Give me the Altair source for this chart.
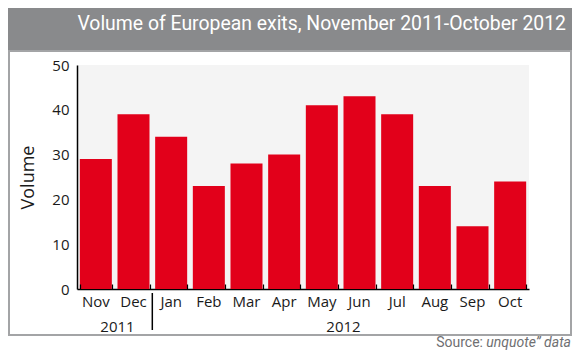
import altair as alt
import pandas as pd

months = ["Nov", "Dec", "Jan", "Feb", "Mar", "Apr", "May", "Jun", "Jul", "Aug", "Sep", "Oct"]
volumes = [29, 39, 34, 23, 28, 30, 41, 43, 39, 23, 14, 24]
years = ["2011", "2012"]
year_anchor = ["Dec", "Jun"]
y_ticks = [0, 10, 20, 30, 40, 50]
title_text = "Volume of European exits, November 2011-October 2012"
source_plain = "Source:"
source_italic = "unquote\u201d data"

RED = "#e2001a"
HEADER = "#898a8c"
BORDER = "#a3a4a6"
COND = "Roboto"
LAB = "Open Sans"

W, H = 452, 224

df = pd.DataFrame({"month": months, "volume": volumes})
ydf = pd.DataFrame({"month": year_anchor, "year": years})
sep = pd.DataFrame({"month": ["Dec"]})
one = pd.DataFrame({"t": [title_text], "s": [source_plain], "i": [source_italic]})

xscale = alt.Scale(domain=months, paddingInner=0.15, paddingOuter=0.075)
yscale = alt.Scale(domain=[0, 50], nice=False)

header = alt.Chart(one).mark_rect(color=HEADER).encode(
    x=alt.value(-77), x2=alt.value(503), y=alt.value(-65), y2=alt.value(-14)
)
frame = alt.Chart(one).mark_rect(fillOpacity=0, stroke=BORDER, strokeWidth=2).encode(
    x=alt.value(-68), x2=alt.value(494), y=alt.value(-14), y2=alt.value(270)
)

bars = alt.Chart(df).mark_bar(color=RED).encode(
    x=alt.X("month:N", sort=months, scale=xscale,
            axis=alt.Axis(orient="bottom", title=None, ticks=False, labelAngle=0,
                          labelFont=LAB, labelFontSize=15, labelColor="#1a1a1a",
                          labelPadding=5, domainColor="black", domainWidth=1.5)),
    y=alt.Y("volume:Q", scale=yscale,
            axis=alt.Axis(values=y_ticks, title="Volume", grid=False, ticks=False,
                          labelFont=LAB, labelFontSize=15, labelColor="#1a1a1a",
                          labelPadding=8, domainColor="black", domainWidth=1.5,
                          titleFont=LAB, titleFontSize=18, titleFontWeight="normal",
                          titleColor="#1a1a1a", titlePadding=14)),
)

tick_layer = alt.Chart(df).mark_bar(opacity=0).encode(
    x=alt.X("month:N", sort=months, scale=xscale,
            axis=alt.Axis(orient="top", offset=-H, labels=False, domain=False, title=None,
                          ticks=True, tickBand="extent", tickSize=5, tickColor="black",
                          tickWidth=1.2, zindex=2)),
    y=alt.Y("volume:Q", scale=yscale),
)

year_text = alt.Chart(ydf).mark_text(font=LAB, fontSize=15, color="#1a1a1a",
                                     baseline="alphabetic").encode(
    x=alt.X("month:N", sort=months, scale=xscale, bandPosition=0, axis=None),
    y=alt.value(267),
    text="year:N",
)

sep_rule = alt.Chart(sep).mark_rule(color="black", strokeWidth=1.5, xOffset=2.8).encode(
    x=alt.X("month:N", sort=months, scale=xscale, bandPosition=1, axis=None),
    y=alt.value(228), y2=alt.value(265),
)

title = alt.Chart(one).mark_text(font=COND, fontSize=19.4, color="white", align="right",
                                 baseline="alphabetic").encode(
    x=alt.value(489), y=alt.value(-35), text="t:N"
)
src1 = alt.Chart(one).mark_text(font=COND, fontSize=14, color="#6f7072", align="right",
                                baseline="alphabetic").encode(
    x=alt.value(406), y=alt.value(282), text="s:N"
)
src2 = alt.Chart(one).mark_text(font=COND, fontSize=14, color="#6f7072", align="right",
                                fontStyle="italic", baseline="alphabetic").encode(
    x=alt.value(494), y=alt.value(282), text="i:N"
)

chart = alt.layer(header, frame, bars, tick_layer, year_text, sep_rule, title, src1, src2).resolve_axis(
    x="independent"
).properties(
    width=W, height=H,
    autosize=alt.AutoSizeParams(type="none"),
    padding={"left": 69, "top": 57, "right": 43, "bottom": 61},
    background="white",
).configure_view(fill="#f4f4f4", stroke=None)

chart.save("out.html", embed_options={"renderer": "svg", "actions": False})
